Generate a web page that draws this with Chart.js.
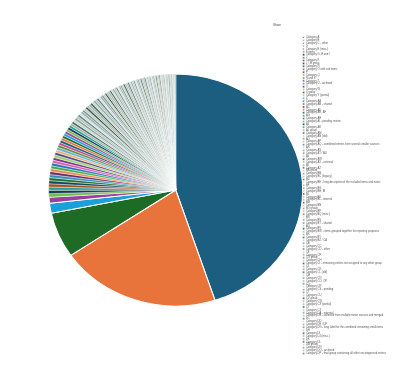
<!DOCTYPE html>
<html lang="en">
<head>
  <meta charset="UTF-8">
  <title>Pie chart</title>
  <script src="https://cdn.jsdelivr.net/npm/chart.js"></script>
  <style>
    html, body { margin: 0; padding: 0; background: #fff; }
  </style>
</head>
<body>
  <canvas id="chart" width="418" height="376"></canvas>

  <script>
    const chartTitle = 'Share';

    const labels = [
      'Category A', 'Category B', 'Category C - other', 'D', 'Category E (misc.)',
      'F items', 'Category G, H and I', 'J', 'Category K', 'L / M group',
      'Category N', 'Category O with sub items', 'P', 'Category Q', 'R and S',
      'Category T', 'Category U - archived', 'V', 'Category W', 'X group',
      'Category Y (partial)', 'Z', 'Category AA', 'Category AB - shared', 'AC',
      'Category AD', 'Category AE, AF', 'AG', 'Category AH', 'Category AI - pending review',
      'AJ', 'Category AK', 'AL group', 'Category AM', 'Category AN (old)',
      'AO', 'Category AP', 'Category AQ - combined entries from several smaller sources', 'AR', 'Category AS',
      'Category AT / AU', 'AV', 'Category AW', 'Category AX - external', 'AY',
      'Category AZ', 'BA group', 'Category BB', 'Category BC (legacy)', 'BD',
      'Category BE - long description of the included items and notes', 'BF', 'Category BG', 'Category BH, BI', 'BJ',
      'Category BK', 'Category BL - internal', 'BM', 'Category BN', 'BO group',
      'Category BP', 'Category BQ (misc.)', 'BR', 'Category BS', 'Category BT - shared',
      'BU', 'Category BV', 'Category BW - items grouped together for reporting purposes', 'BX', 'Category BY',
      'Category BZ / CA', 'CB', 'Category CC', 'Category CD - other', 'CE',
      'Category CF', 'CG group', 'Category CH', 'Category CI - remaining entries not assigned to any other group', 'CJ',
      'Category CK', 'Category CL (old)', 'CM', 'Category CN', 'Category CO, CP',
      'CQ', 'Category CR', 'Category CS - pending', 'CT', 'Category CU',
      'CV group', 'Category CW', 'Category CX (partial)', 'CY', 'Category CZ',
      'Category DA - external', 'Category DB - collected from multiple minor sources and merged', 'DC', 'Category DD', 'Category DE / DF',
      'Category DG - long label for the combined remaining small items', 'DH', 'Category DI', 'Category DJ (misc.)', 'DK',
      'Category DL', 'DM group', 'Category DN', 'Category DO - archived', 'Category DP - final group containing all other uncategorised entries'
    ];

    const values = [
      366.6, 167, 51.3, 11.4, 6.9,
      3.9, 3.8, 3.7, 3.6, 3.5, 3.5, 3.4, 3.4, 3.3, 3.3,
      3.2, 3.2, 3.1, 3.1, 3.0, 3.0, 3.0, 2.9, 2.9, 2.9,
      2.8, 2.8, 2.8, 2.7, 2.7, 2.7, 2.6, 2.6, 2.6, 2.5,
      2.5, 2.5, 2.4, 2.4, 2.4, 2.3, 2.3, 2.3, 2.2, 2.2,
      2.2, 2.2, 2.1, 2.1, 2.1, 2.0, 2.0, 2.0, 2.0, 1.9,
      1.9, 1.9, 1.9, 1.8, 1.8, 1.8, 1.8, 1.7, 1.7, 1.7,
      1.7, 1.7, 1.6, 1.6, 1.6, 1.6, 1.6, 1.5, 1.5, 1.5,
      1.5, 1.5, 1.4, 1.4, 1.4, 1.4, 1.4, 1.4, 1.3, 1.3,
      1.3, 1.3, 1.3, 1.3, 1.2, 1.2, 1.2, 1.2, 1.2, 1.2,
      1.1, 1.1, 1.1, 1.1, 1.1, 1.0, 1.0, 1.0, 1.0, 1.0,
      0.9, 0.9, 0.9, 0.8, 0.8
    ];

    // strong colours for the larger slices, greyish tints for the thin tail near the top
    const palette = [
      '#1b5e80', '#e8743b', '#1e6b26', '#1ba0d8', '#9c3fa1', '#6fbf46',
      '#133a57', '#2f9a8f', '#a54f1b', '#0e4763', '#2b6d2f', '#2e8fbf',
      '#6c2b70', '#ee8a4f', '#3fae4f', '#2773b0', '#d65fb8', '#7e3484',
      '#9bd36a', '#4a4a8a', '#f0b070', '#62b0d8', '#5b8f3a', '#c04a8a'
    ];
    const tailPalette = [
      '#9fb5ae', '#4e6b66', '#c8d6d0', '#87a596', '#b4c3c7', '#6a8a84',
      '#d5e0da', '#93aeb8', '#7d9a88', '#c2cfc8', '#3f5956', '#a9bea5'
    ];
    const paleFrom = 32;

    const colors = labels.map((l, i) =>
      i < paleFrom ? palette[i % palette.length] : tailPalette[(i - paleFrom) % tailPalette.length]);
    const borders = labels.map((l, i) => (i < 5 ? 1 : 0.4));

    // the pie in the reference is a bit wider than tall
    const squash = {
      id: 'squash',
      beforeDatasetsDraw(chart) {
        const arc = chart.getDatasetMeta(0).data[0];
        const ctx = chart.ctx;
        ctx.save();
        ctx.translate(arc.x, arc.y);
        ctx.scale(1.095, 1);
        ctx.translate(-arc.x, -arc.y);
      },
      afterDatasetsDraw(chart) {
        chart.ctx.restore();
      }
    };

    const smallTitle = {
      id: 'smallTitle',
      afterDraw(chart) {
        const ctx = chart.ctx;
        ctx.save();
        ctx.font = '3px "Liberation Sans"';
        ctx.fillStyle = '#444';
        ctx.textAlign = 'center';
        ctx.textBaseline = 'middle';
        ctx.fillText(chartTitle, 277, 25);
        ctx.restore();
      }
    };

    new Chart(document.getElementById('chart'), {
      type: 'pie',
      data: {
        labels: labels,
        datasets: [{
          data: values,
          backgroundColor: colors,
          borderColor: '#fff',
          borderWidth: borders,
          radius: 116
        }]
      },
      options: {
        responsive: false,
        animation: false,
        layout: { padding: { left: 49, right: 22, top: 25, bottom: 21 } },
        plugins: {
          tooltip: { enabled: false },
          legend: {
            position: 'right',
            align: 'end',
            labels: {
              font: { size: 2.7, family: 'Liberation Sans' },
              color: '#555',
              boxWidth: 2,
              boxHeight: 2,
              padding: 0.2
            }
          }
        }
      },
      plugins: [squash, smallTitle]
    });
  </script>
</body>
</html>
